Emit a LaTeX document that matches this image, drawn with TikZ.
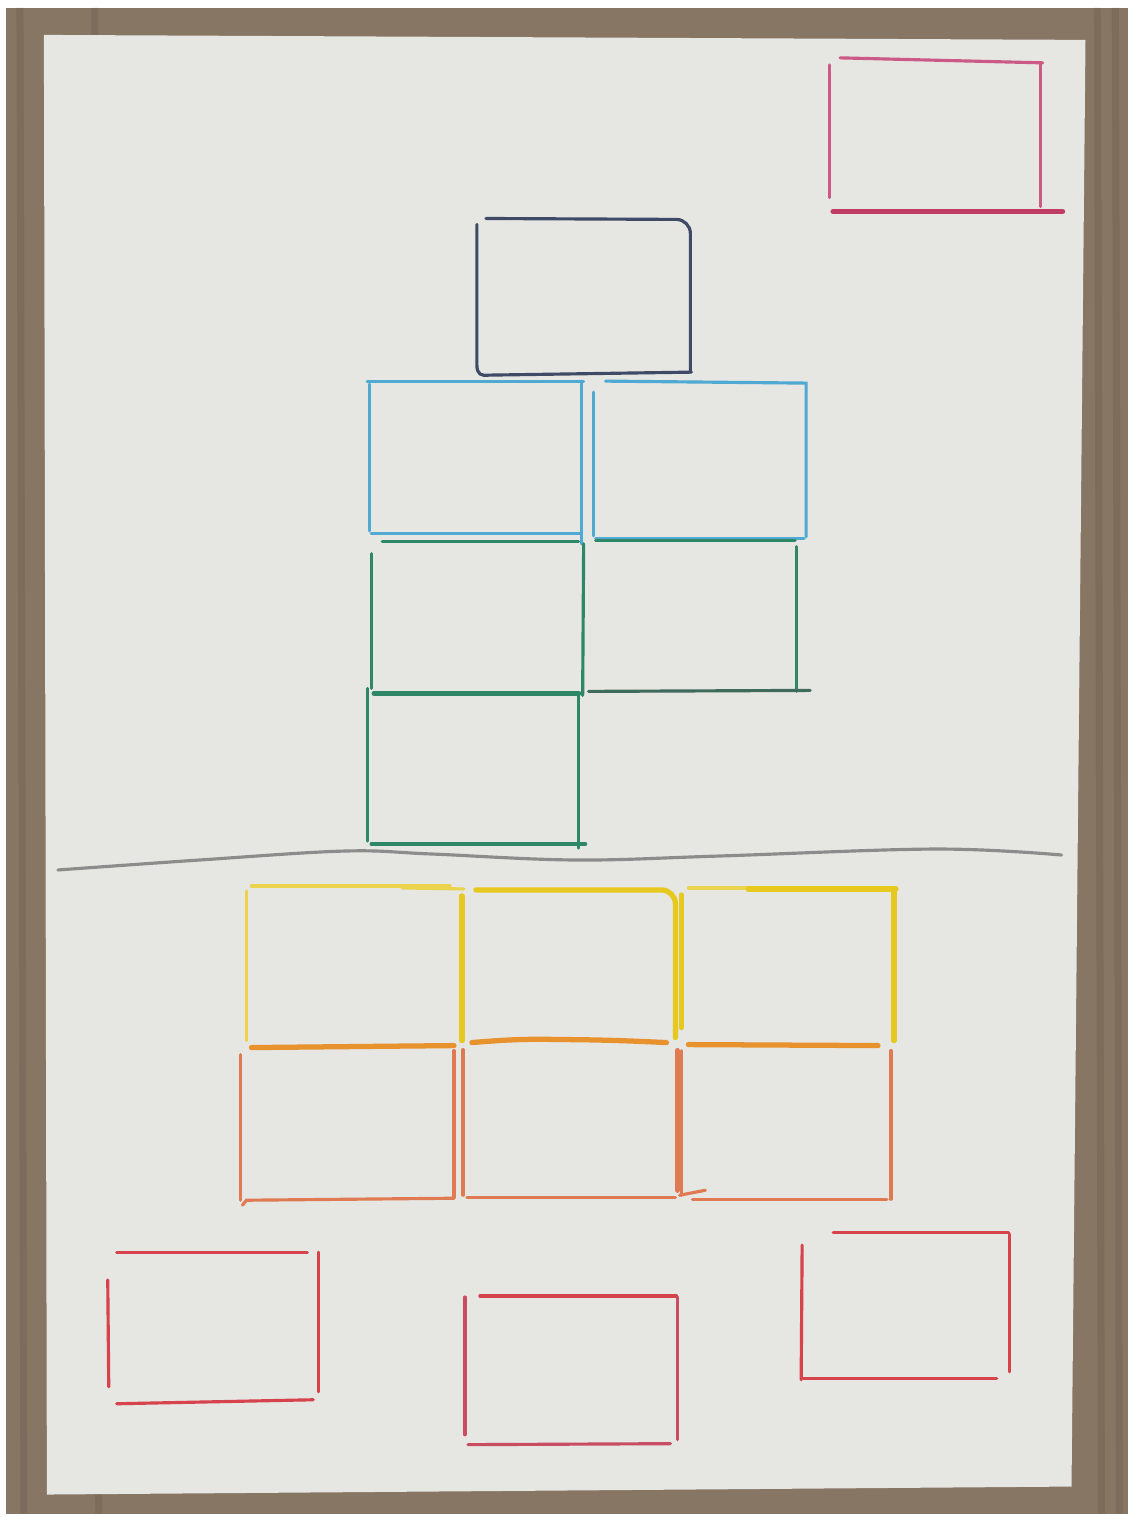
\documentclass[tikz,border=0pt]{standalone}
\usetikzlibrary{calc}
\definecolor{wood}{HTML}{877664}
\definecolor{wooddark}{HTML}{6E5E50}
\definecolor{paper}{HTML}{E6E6E3}
\definecolor{pinkpen}{HTML}{CC5A86}
\definecolor{crimsonpen}{HTML}{C03E66}
\definecolor{navypen}{HTML}{3E4A66}
\definecolor{skypen}{HTML}{4FA9D2}
\definecolor{greenpen}{HTML}{2E8868}
\definecolor{darkgreenpen}{HTML}{3F6B5C}
\definecolor{greypen}{HTML}{8C8C8C}
\definecolor{yellowpen}{HTML}{E6C81E}
\definecolor{orangepen}{HTML}{E8922E}
\definecolor{salmonpen}{HTML}{E07A52}
\definecolor{redpen}{HTML}{D6434C}
\definecolor{rosepen}{HTML}{C84C62}

\begin{document}
\begin{tikzpicture}[
        x=0.01cm, y=-0.01cm,
        pencil/.style={line width=0.9pt, line cap=round},
        thickpencil/.style={line width=1.5pt, line cap=round},
        pinkline/.style={pencil, draw=pinkpen},
        crimsonline/.style={thickpencil, draw=crimsonpen},
        navyline/.style={pencil, draw=navypen},
        skyline/.style={pencil, draw=skypen},
        greenline/.style={pencil, draw=greenpen},
        greenthick/.style={thickpencil, draw=greenpen},
        greyline/.style={pencil, draw=greypen},
        yellowline/.style={thickpencil, draw=yellowpen},
        yellowthin/.style={pencil, draw=yellowpen!80},
        orangeline/.style={thickpencil, draw=orangepen},
        salmonline/.style={pencil, draw=salmonpen},
        redline/.style={pencil, draw=redpen},
        roseline/.style={pencil, draw=rosepen},
    ]
    % table and sheet
    \fill[white] (0,0) rectangle (1131,1517);
    \fill[wood] (6,8) rectangle (1131,1517);
    \foreach \gx in {20,95,1100,1118}
        \draw[wooddark, line width=2pt, opacity=0.4] (\gx,8) -- (\gx+4,1517);
    \fill[paper] (44,35) -- (1088,40) -- (1074,1490) -- (47,1498) -- cycle;
    \useasboundingbox (0,0) rectangle (1131,1517);

    % top right box
    \draw[pinkline] (842,58) -- (1045,63);
    \draw[pinkline] (831,65) -- (831,198);
    \draw[pinkline] (1043,63) -- (1043,207);
    \draw[crimsonline] (835,212) -- (1065,212);

    % top box
    \draw[navyline, rounded corners=4pt] (487,219) -- (692,220) -- (692,373);
    \draw[navyline] (478,225) -- (478,366)
        .. controls (478,375) and (482,377) .. (490,376) -- (693,373);

    % second row
    \draw[skyline] (368,382) -- (585,382);
    \draw[skyline] (370,385) -- (370,532);
    \draw[skyline] (583,382) -- (583,545);
    \draw[skyline] (372,535) -- (583,535);
    \draw[skyline] (607,382) -- (808,384) -- (808,538);
    \draw[skyline] (595,393) -- (595,537);
    \draw[skyline] (597,540) -- (806,540);

    % third row
    \draw[greenline] (383,543) -- (580,543);
    \draw[greenline] (372,555) -- (372,690);
    \draw[greenline] (585,545) -- (584,697);
    \draw[greenthick] (375,695) -- (580,695);
    \draw[greenline] (597,542) -- (797,542);
    \draw[greenline] (798,548) -- (798,693);
    \draw[pencil, draw=darkgreenpen] (590,693) -- (812,692);

    % fourth row
    \draw[greenline] (368,690) -- (368,843);
    \draw[greenline] (580,697) -- (580,850);
    \draw[greenline] (372,846) -- (587,846);

    % dividing line
    \draw[greyline] plot[smooth, tension=0.6] coordinates
        {(58,872) (200,862) (346,853) (433,856) (577,862) (721,858) (938,851) (1064,857)};

    % yellow row
    \draw[yellowthin] (252,888) -- (451,888);
    \draw[yellowthin] (403,890) -- (465,891);
    \draw[yellowthin] (247,893) -- (247,1043);
    \draw[yellowline] (463,898) -- (463,1043);
    \draw[yellowline, rounded corners=4pt] (477,892) -- (677,892) -- (677,1040);
    \draw[yellowline] (683,897) -- (683,1030);
    \draw[yellowthin] (690,890) -- (750,890);
    \draw[yellowline] (750,891) -- (898,891);
    \draw[yellowline] (896,893) -- (896,1043);

    % orange row
    \draw[orangeline] (252,1050) -- (455,1048);
    \draw[orangeline] plot[smooth, tension=0.7] coordinates
        {(473,1045) (520,1042) (570,1042) (620,1043) (668,1045)};
    \draw[orangeline] (690,1047) -- (880,1048);
    \draw[salmonline] (241,1057) -- (241,1203);
    \draw[salmonline] (455,1053) -- (455,1200);
    \draw[salmonline] (464,1052) -- (464,1198);
    \draw[thickpencil, draw=salmonpen] (679,1053) -- (679,1193);
    \draw[salmonline] (683,1053) -- (683,1198);
    \draw[salmonline] (893,1053) -- (893,1202);
    \draw[salmonline] (243,1208) -- (247,1203) -- (455,1201);
    \draw[salmonline] (468,1200) -- (677,1200);
    \draw[salmonline] (681,1198) -- (707,1193);
    \draw[salmonline] (694,1202) -- (889,1202);

    % bottom left box
    \draw[redline] (117,1255) -- (308,1255);
    \draw[redline] (108,1283) -- (109,1390);
    \draw[redline] (319,1255) -- (319,1395);
    \draw[redline] (117,1407) -- (314,1403);

    % bottom middle box
    \draw[redline] (481,1299) -- (678,1299);
    \draw[roseline] (466,1300) -- (466,1438);
    \draw[roseline] (679,1300) -- (679,1443);
    \draw[roseline] (469,1448) -- (672,1447);

    % bottom right box
    \draw[redline] (835,1235) -- (1011,1235);
    \draw[redline] (804,1248) -- (803,1383);
    \draw[redline] (1012,1237) -- (1012,1375);
    \draw[redline] (805,1382) -- (999,1382);
\end{tikzpicture}
\end{document}
